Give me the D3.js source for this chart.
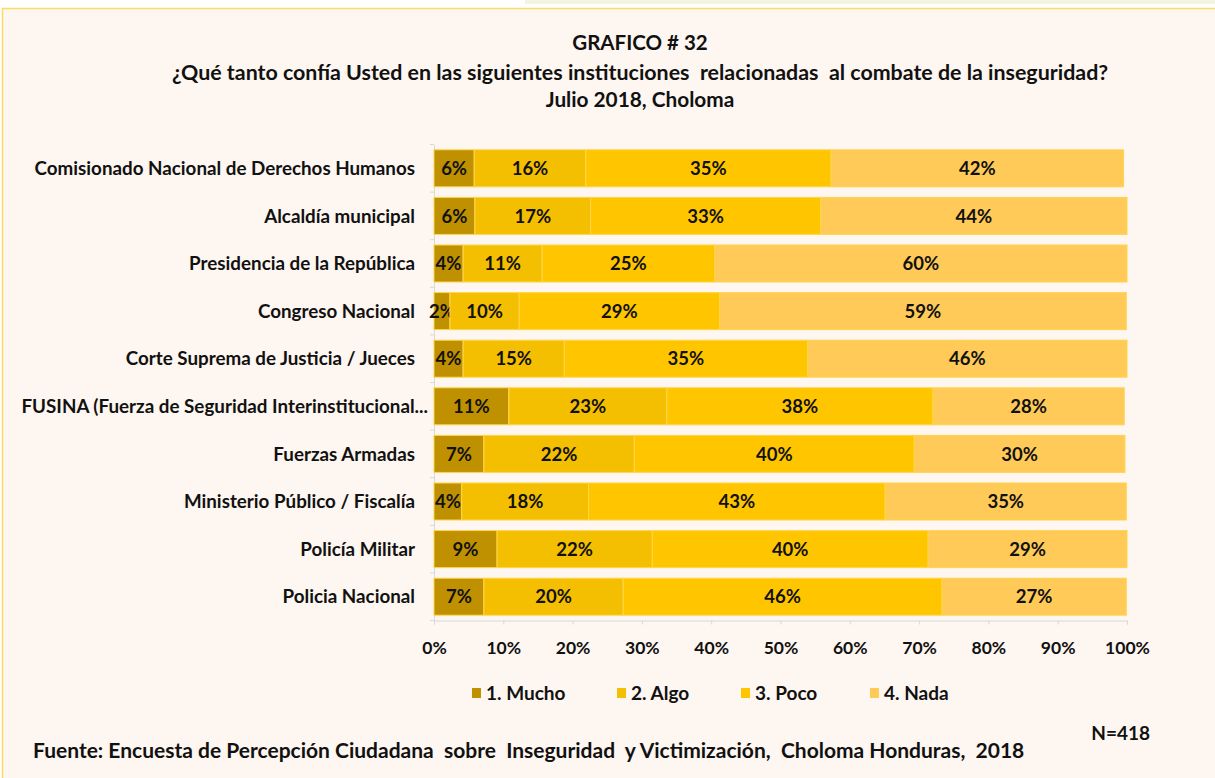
<!DOCTYPE html>
<html>
<head>
<meta charset="utf-8">
<script src="https://cdn.jsdelivr.net/npm/d3@7"></script>
<style>
	body { margin: 0; background: #ffffff; }
	svg { display: block; font-family: Lato, "Open Sans", sans-serif; }
</style>
</head>
<body>
<div id="chart"></div>
<script>
var categories = [
	"Comisionado Nacional de Derechos Humanos",
	"Alcaldía municipal",
	"Presidencia de la República",
	"Congreso Nacional",
	"Corte Suprema de Justicia / Jueces",
	"FUSINA (Fuerza de Seguridad Interinstitucional...",
	"Fuerzas Armadas",
	"Ministerio Público / Fiscalía",
	"Policía Militar",
	"Policia Nacional"
];
var seriesNames = ["1. Mucho", "2. Algo", "3. Poco", "4. Nada"];
var mucho = [5.8, 5.9, 4.2, 2.3, 4.2, 10.8, 7.2, 4.0, 9.1, 7.2];
var algo = [16.1, 16.7, 11.4, 10.0, 14.6, 22.8, 21.7, 18.3, 22.4, 20.1];
var poco = [35.4, 33.2, 24.9, 28.9, 35.1, 38.4, 40.4, 42.8, 39.8, 46.0];
var nada = [42.2, 44.2, 59.5, 58.7, 46.1, 27.6, 30.4, 34.8, 28.7, 26.6];
var tickValues = [0, 10, 20, 30, 40, 50, 60, 70, 80, 90, 100];
var colors = ["#bf9000", "#f4bf00", "#ffc600", "#ffca58"];

var width = 1215, height = 778;
var svg = d3.select("#chart").append("svg")
	.attr("width", width)
	.attr("height", height);

// page strip above the chart frame
svg.append("rect").attr("x", 525).attr("y", 0).attr("width", 690).attr("height", 4).attr("fill", "#f4f4e2");
svg.append("rect")
	.attr("x", 2.5).attr("y", 8.5)
	.attr("width", width + 10).attr("height", height)
	.attr("fill", "#fef6f0")
	.attr("stroke", "#ffd966")
	.attr("stroke-width", 1.5);

var table = categories.map(function (c, i) {
	return { cat: c, "1. Mucho": mucho[i], "2. Algo": algo[i], "3. Poco": poco[i], "4. Nada": nada[i] };
});
var stacked = d3.stack().keys(seriesNames)(table);

var x = d3.scaleLinear().domain([0, 100]).range([434, 1127]);
var y = d3.scaleBand().domain(categories).range([144.5, 620.5]).paddingInner(0.223).paddingOuter(0.1115);

// titles
var titles = [
	{ t: "GRAFICO # 32", y: 43, s: 20.5 },
	{ t: "¿Qué tanto confía Usted en las siguientes instituciones  relacionadas  al combate de la inseguridad?", y: 72, s: 21.4 },
	{ t: "Julio 2018, Choloma", y: 100, s: 20.8 }
];
svg.selectAll(".title")
	.data(titles)
	.enter()
	.append("text")
	.attr("class", "title")
	.attr("x", 640)
	.attr("y", function (d) { return d.y; })
	.attr("dy", "0.36em")
	.attr("text-anchor", "middle")
	.attr("font-size", function (d) { return d.s; })
	.attr("font-weight", "bold")
	.attr("fill", "#111")
	.style("white-space", "pre")
	.text(function (d) { return d.t; });

// axes
var axisColor = "#d9d9d9";
var yAxis = svg.append("g").attr("transform", "translate(434,0)")
	.call(d3.axisLeft(y).tickSize(0).tickFormat(""));
yAxis.select(".domain").attr("stroke", axisColor);
svg.selectAll(".ytick")
	.data(d3.range(categories.length + 1))
	.enter()
	.append("line")
	.attr("class", "ytick")
	.attr("x1", 430).attr("x2", 434)
	.attr("y1", function (d) { return 144.5 + d * y.step(); })
	.attr("y2", function (d) { return 144.5 + d * y.step(); })
	.attr("stroke", axisColor);

var xAxis = svg.append("g").attr("transform", "translate(0,620.5)")
	.call(d3.axisBottom(x).tickValues(tickValues).tickSize(4).tickFormat(function (d) { return d + "%"; }));
xAxis.select(".domain").attr("stroke", axisColor);
xAxis.selectAll(".tick line").attr("stroke", axisColor);
xAxis.selectAll(".tick text")
	.attr("y", 27)
	.attr("dy", "0.36em")
	.attr("font-size", 17.5)
	.attr("font-weight", "bold")
	.attr("font-family", "Lato, sans-serif")
	.attr("fill", "#111");

// bars
var groups = svg.selectAll(".serie")
	.data(stacked)
	.enter()
	.append("g")
	.attr("class", "serie")
	.attr("fill", function (d, i) { return colors[i]; });

groups.selectAll("rect")
	.data(function (d) { return d; })
	.enter()
	.append("rect")
	.attr("x", function (d) { return x(d[0]); })
	.attr("y", function (d) { return y(d.data.cat); })
	.attr("width", function (d) { return x(d[1]) - x(d[0]); })
	.attr("height", y.bandwidth())
	.attr("stroke", "#ffd54a")
	.attr("stroke-width", 1);

groups.selectAll("text")
	.data(function (d) { return d.map(function (v) { return { v: v, key: d.key }; }); })
	.enter()
	.append("text")
	.attr("x", function (d) { return (x(d.v[0]) + x(d.v[1])) / 2; })
	.attr("y", function (d) { return y(d.v.data.cat) + y.bandwidth() / 2; })
	.attr("dy", "0.36em")
	.attr("text-anchor", "middle")
	.attr("font-size", 18.5)
	.attr("font-weight", "bold")
	.attr("fill", "#111")
	.text(function (d) { return Math.round(d.v.data[d.key]) + "%"; });

// category labels (the truncated one keeps its ellipsis past the label edge)
svg.selectAll(".cat")
	.data(categories)
	.enter()
	.append("text")
	.attr("class", "cat")
	.attr("x", function (d) { return d.slice(-3) === "..." ? 428 : 415; })
	.attr("y", function (d) { return y(d) + y.bandwidth() / 2; })
	.attr("dy", "0.36em")
	.attr("text-anchor", "end")
	.attr("font-size", 18.8)
	.attr("font-weight", "bold")
	.attr("fill", "#111")
	.text(function (d) { return d; });

// legend
var legendX = [472, 617, 741, 870];
var legend = svg.selectAll(".legend")
	.data(seriesNames)
	.enter()
	.append("g")
	.attr("class", "legend")
	.attr("transform", function (d, i) { return "translate(" + legendX[i] + ",688)"; });
legend.append("rect")
	.attr("width", 9).attr("height", 10)
	.attr("fill", function (d, i) { return colors[i]; });
legend.append("text")
	.attr("x", 14).attr("y", 5)
	.attr("dy", "0.36em")
	.attr("font-size", 19)
	.attr("font-weight", "bold")
	.attr("fill", "#111")
	.text(function (d) { return d; });

svg.append("text")
	.attr("x", 1150).attr("y", 733)
	.attr("dy", "0.36em")
	.attr("text-anchor", "end")
	.attr("font-size", 19)
	.attr("font-weight", "bold")
	.attr("fill", "#111")
	.text("N=418");

svg.append("text")
	.attr("x", 33).attr("y", 750)
	.attr("dy", "0.36em")
	.attr("font-size", 21)
	.attr("font-weight", "bold")
	.attr("fill", "#111")
	.style("white-space", "pre")
	.text("Fuente: Encuesta de Percepción Ciudadana  sobre  Inseguridad  y Victimización,  Choloma Honduras,  2018");
</script>
</body>
</html>
